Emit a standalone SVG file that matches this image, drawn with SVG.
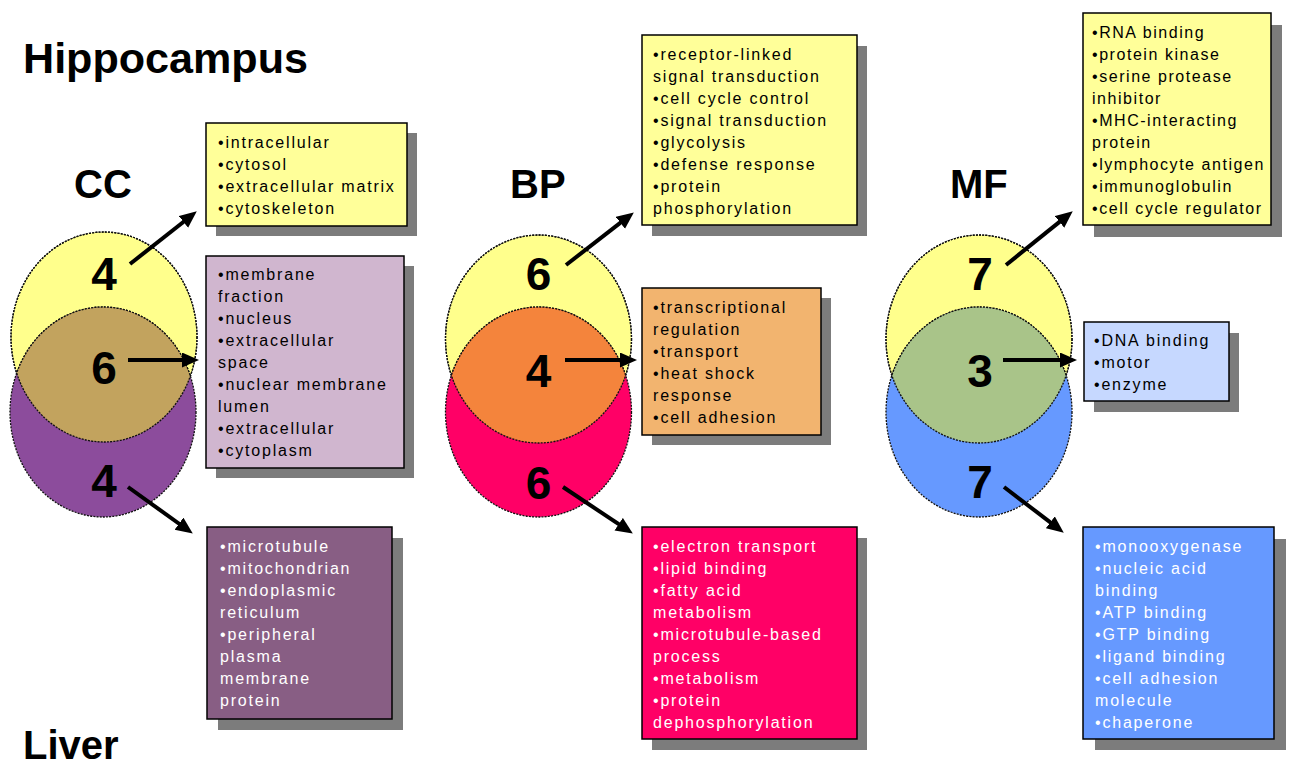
<svg xmlns="http://www.w3.org/2000/svg" width="1301" height="768" viewBox="0 0 1301 768">
<defs>
<style>
.title{font-family:"Liberation Sans",Arial,sans-serif;font-weight:bold;fill:#000}
.big{font-family:"Liberation Sans",Arial,sans-serif;font-weight:bold;font-size:46px;fill:#000;text-anchor:middle}
.txt{font-family:"Liberation Sans",Arial,sans-serif;font-size:16px;letter-spacing:1.8px;fill:#000}
.tight{letter-spacing:1.55px}
.wt{fill:#fff}
.shadow{fill:#7c7c7c}
.box{stroke:#000;stroke-width:1.5}
.circ{stroke:#111;stroke-width:1.3;stroke-dasharray:2 1.2}
.arrow{stroke:#000;stroke-width:4;fill:none;marker-end:url(#ah)}
</style>
<marker id="ah" markerUnits="userSpaceOnUse" markerWidth="18" markerHeight="16" refX="10" refY="7.5" orient="auto">
<path d="M0,0 L17,7.5 L0,15 z" fill="#000"/>
</marker>
<clipPath id="cTop"><ellipse cx="104" cy="337" rx="93" ry="105"/></clipPath>
<clipPath id="bTop"><ellipse cx="538.5" cy="339" rx="93" ry="104"/></clipPath>
<clipPath id="mTop"><ellipse cx="979" cy="339" rx="93" ry="104"/></clipPath>
</defs>
<rect width="1301" height="768" fill="#fff"/>

<g id="titles">
<text class="title" x="23" y="73" font-size="42" textLength="285" lengthAdjust="spacingAndGlyphs">Hippocampus</text>
<text class="title" x="23" y="759" font-size="40">Liver</text>
<text class="title" x="74" y="198" font-size="40">CC</text>
<text class="title" x="510" y="198" font-size="40">BP</text>
<text class="title" x="950" y="198" font-size="40">MF</text>
</g>

<g id="venn-cc">
<ellipse class="circ" cx="104" cy="337" rx="93" ry="105" fill="#ffff8c"/>
<ellipse class="circ" cx="103" cy="412" rx="93" ry="105" fill="#8c4c9c"/>
<ellipse class="circ" cx="103" cy="412" rx="93" ry="105" fill="#c2a35e" clip-path="url(#cTop)"/>
<ellipse class="circ" cx="104" cy="337" rx="93" ry="105" fill="none"/>
<text class="big" x="104" y="290">4</text>
<text class="big" x="104" y="384">6</text>
<text class="big" x="104" y="497">4</text>
</g>

<g id="venn-bp">
<ellipse class="circ" cx="538.5" cy="339" rx="93" ry="104" fill="#ffff8c"/>
<ellipse class="circ" cx="538.5" cy="412" rx="93" ry="105" fill="#ff0066"/>
<ellipse class="circ" cx="538.5" cy="412" rx="93" ry="105" fill="#f4843c" clip-path="url(#bTop)"/>
<ellipse class="circ" cx="538.5" cy="339" rx="93" ry="104" fill="none"/>
<text class="big" x="538.5" y="290">6</text>
<text class="big" x="538.5" y="387">4</text>
<text class="big" x="538.5" y="499">6</text>
</g>

<g id="venn-mf">
<ellipse class="circ" cx="979" cy="339" rx="93" ry="104" fill="#ffff8c"/>
<ellipse class="circ" cx="979" cy="412" rx="93" ry="105" fill="#6699ff"/>
<ellipse class="circ" cx="979" cy="412" rx="93" ry="105" fill="#a9c489" clip-path="url(#mTop)"/>
<ellipse class="circ" cx="979" cy="339" rx="93" ry="104" fill="none"/>
<text class="big" x="980" y="290">7</text>
<text class="big" x="980" y="387">3</text>
<text class="big" x="980" y="498">7</text>
</g>

<g id="connectors">
<path class="arrow" d="M130,264 L191.3,215.7"/>
<path class="arrow" d="M128,360 L192,360"/>
<path class="arrow" d="M128,487 L187.1,529.5"/>
<path class="arrow" d="M566,265 L628.3,216.7"/>
<path class="arrow" d="M565,360 L630,360"/>
<path class="arrow" d="M563,487 L627,529.7"/>
<path class="arrow" d="M1006,265 L1067.3,215.6"/>
<path class="arrow" d="M1003,360 L1070,360"/>
<path class="arrow" d="M1004,487 L1058.2,528.4"/>
</g>

<g id="box-cc-top">
<rect class="shadow" x="216" y="133" width="201" height="103"/>
<rect class="box" x="206" y="123" width="201" height="103" fill="#ffff99"/>
<text class="txt"><tspan x="218" y="148">•intracellular</tspan><tspan x="218" y="170">•cytosol</tspan><tspan x="218" y="192">•extracellular matrix</tspan><tspan x="218" y="214">•cytoskeleton</tspan></text>
</g>

<g id="box-cc-mid">
<rect class="shadow" x="216" y="266" width="198" height="212"/>
<rect class="box" x="206" y="256" width="198" height="212" fill="#d0b6cf"/>
<text class="txt"><tspan x="218" y="280">•membrane</tspan><tspan x="218" y="302">fraction</tspan><tspan x="218" y="324">•nucleus</tspan><tspan x="218" y="346">•extracellular</tspan><tspan x="218" y="368">space</tspan><tspan x="218" y="390">•nuclear membrane</tspan><tspan x="218" y="412">lumen</tspan><tspan x="218" y="434">•extracellular</tspan><tspan x="218" y="456">•cytoplasm</tspan></text>
</g>

<g id="box-cc-bot">
<rect class="shadow" x="218" y="538" width="185" height="192"/>
<rect class="box" x="207" y="527" width="185" height="192" fill="#885e84"/>
<text class="txt wt"><tspan x="220" y="552">•microtubule</tspan><tspan x="220" y="574">•mitochondrian</tspan><tspan x="220" y="596">•endoplasmic</tspan><tspan x="220" y="618">reticulum</tspan><tspan x="220" y="640">•peripheral</tspan><tspan x="220" y="662">plasma</tspan><tspan x="220" y="684">membrane</tspan><tspan x="220" y="706">protein</tspan></text>
</g>

<g id="box-bp-top">
<rect class="shadow" x="652" y="46" width="215" height="190"/>
<rect class="box" x="642" y="35" width="215" height="190" fill="#ffff99"/>
<text class="txt"><tspan x="653" y="60">•receptor-linked</tspan><tspan x="653" y="82">signal transduction</tspan><tspan x="653" y="104">•cell cycle control</tspan><tspan x="653" y="126">•signal transduction</tspan><tspan x="653" y="148">•glycolysis</tspan><tspan x="653" y="170">•defense response</tspan><tspan x="653" y="192">•protein</tspan><tspan x="653" y="214">phosphorylation</tspan></text>
</g>

<g id="box-bp-mid">
<rect class="shadow" x="652" y="298" width="179" height="147"/>
<rect class="box" x="642" y="288" width="179" height="147" fill="#f2b46f"/>
<text class="txt"><tspan x="653" y="313">•transcriptional</tspan><tspan x="653" y="335">regulation</tspan><tspan x="653" y="357">•transport</tspan><tspan x="653" y="379">•heat shock</tspan><tspan x="653" y="401">response</tspan><tspan x="653" y="423">•cell adhesion</tspan></text>
</g>

<g id="box-bp-bot">
<rect class="shadow" x="652" y="538" width="215" height="212"/>
<rect class="box" x="642" y="527" width="215" height="212" fill="#ff0066"/>
<text class="txt wt"><tspan x="653" y="552">•electron transport</tspan><tspan x="653" y="574">•lipid binding</tspan><tspan x="653" y="596">•fatty acid</tspan><tspan x="653" y="618">metabolism</tspan><tspan x="653" y="640">•microtubule-based</tspan><tspan x="653" y="662">process</tspan><tspan x="653" y="684">•metabolism</tspan><tspan x="653" y="706">•protein</tspan><tspan x="653" y="728">dephosphorylation</tspan></text>
</g>

<g id="box-mf-top">
<rect class="shadow" x="1094" y="25" width="188" height="212"/>
<rect class="box" x="1083" y="13" width="188" height="212" fill="#ffff99"/>
<text class="txt tight"><tspan x="1092" y="38">•RNA binding</tspan><tspan x="1092" y="60">•protein kinase</tspan><tspan x="1092" y="82">•serine protease</tspan><tspan x="1092" y="104">inhibitor</tspan><tspan x="1092" y="126">•MHC-interacting</tspan><tspan x="1092" y="148">protein</tspan><tspan x="1092" y="170">•lymphocyte antigen</tspan><tspan x="1092" y="192">•immunoglobulin</tspan><tspan x="1092" y="214">•cell cycle regulator</tspan></text>
</g>

<g id="box-mf-mid">
<rect class="shadow" x="1094" y="333" width="145" height="79"/>
<rect class="box" x="1084" y="322" width="145" height="79" fill="#c6d8ff"/>
<text class="txt"><tspan x="1094" y="346">•DNA binding</tspan><tspan x="1094" y="368">•motor</tspan><tspan x="1094" y="390">•enzyme</tspan></text>
</g>

<g id="box-mf-bot">
<rect class="shadow" x="1095" y="539" width="191" height="211"/>
<rect class="box" x="1083" y="527" width="191" height="212" fill="#6699ff"/>
<text class="txt wt"><tspan x="1095" y="552">•monooxygenase</tspan><tspan x="1095" y="574">•nucleic acid</tspan><tspan x="1095" y="596">binding</tspan><tspan x="1095" y="618">•ATP binding</tspan><tspan x="1095" y="640">•GTP binding</tspan><tspan x="1095" y="662">•ligand binding</tspan><tspan x="1095" y="684">•cell adhesion</tspan><tspan x="1095" y="706">molecule</tspan><tspan x="1095" y="728">•chaperone</tspan></text>
</g>
</svg>
